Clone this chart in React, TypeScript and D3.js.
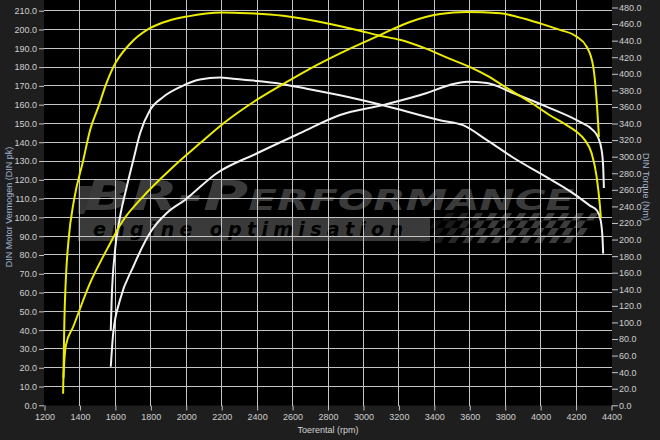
import React, { useEffect, useRef } from 'react';
import * as d3 from 'd3';

// axis ticks
const rpmTicks = [1200, 1400, 1600, 1800, 2000, 2200, 2400, 2600, 2800, 3000, 3200, 3400, 3600, 3800, 4000, 4200, 4400];
const powerTicks = [0, 10, 20, 30, 40, 50, 60, 70, 80, 90, 100, 110, 120, 130, 140, 150, 160, 170, 180, 190, 200, 210];
const torqueTicks = [0, 20, 40, 60, 80, 100, 120, 140, 160, 180, 200, 220, 240, 260, 280, 300, 320, 340, 360, 380, 400, 420, 440, 460, 480];

// [rpm, pk]
const tunedPower: [number, number][] = [
  [1307, 14.5], [1310, 20.5], [1321, 32], [1362, 41.8], [1457, 65], [1551, 82.7], [1645, 98.6],
  [1739, 109.3], [1927, 127], [2077, 139.4], [2209, 150], [2397, 162.5], [2585, 173], [2736, 181],
  [2868, 187.3], [3093, 197], [3262, 204], [3432, 208.2], [3582, 209.3], [3772, 208.6], [3865, 206.8],
  [3996, 203.3], [4109, 199.8], [4203, 196.2], [4260, 190.8], [4297, 180.2], [4316, 162.5], [4329, 142.8],
];

// [rpm, Nm]
const tunedTorque: [number, number][] = [
  [1305, 14], [1308, 50], [1312, 100], [1320, 150], [1336, 200], [1366, 247], [1419, 296], [1457, 332],
  [1504, 360], [1545, 386], [1588, 408], [1682, 436], [1795, 455], [1900, 464], [2002, 469], [2200, 474],
  [2303, 473.5], [2547, 470], [2792, 461], [2980, 452], [3093, 446], [3205, 441], [3357, 430], [3489, 418],
  [3602, 408], [3695, 398], [3808, 383], [3940, 366], [4052, 350], [4147, 338], [4203, 330], [4250, 320],
  [4288, 304], [4316, 276], [4335, 240], [4340, 226],
];

// [rpm, pk]
const stockPower: [number, number][] = [
  [1574, 20.5], [1588, 38.5], [1626, 56], [1701, 73.8], [1795, 91.7], [1890, 102.3], [1993, 109.3],
  [2172, 123.5], [2397, 134], [2642, 144.8], [2868, 154.5], [3110, 159.8], [3358, 166.2], [3488, 170.5],
  [3584, 172.2], [3697, 171.5], [3844, 166.2], [4036, 158.8], [4222, 150.8], [4295, 146.5], [4323, 142.8],
  [4344, 135.9], [4353, 127], [4357, 115.6],
];

// [rpm, Nm]
const stockTorque: [number, number][] = [
  [1574, 90.5], [1579, 126.7], [1598, 187], [1626, 227], [1664, 263.5], [1701, 295.7], [1739, 328],
  [1795, 356], [1870, 372], [1965, 384], [2077, 393], [2190, 395.5], [2265, 394], [2397, 391.4],
  [2529, 388], [2680, 382], [2868, 374], [3110, 362], [3432, 344], [3562, 338], [3697, 320], [3844, 299],
  [4036, 275], [4182, 256], [4278, 241], [4318, 235], [4339, 223], [4350, 199], [4353, 183],
];

const App: React.FC = () => {
  const svgRef = useRef<SVGSVGElement | null>(null);

  useEffect(() => {
    const width = 660;
    const height = 440;
    const plot = { left: 44, right: 612, top: 0, bottom: 405.5 };
    const font = '"Liberation Sans", Arial, sans-serif';

    const svg = d3.select(svgRef.current)
      .attr('width', width)
      .attr('height', height);

    svg.selectAll('*').remove();

    const x = d3.scaleLinear().domain([1200, 4400]).range([44.5, 611.5]);
    const yPower = d3.scaleLinear().domain([0, 210]).range([405.3, 10.7]);
    const yTorque = d3.scaleLinear().domain([0, 480]).range([405.3, 7.5]);

    svg.append('rect').attr('width', width).attr('height', height).attr('fill', '#1e1e1e');
    svg.append('rect')
      .attr('x', plot.left).attr('y', plot.top)
      .attr('width', plot.right - plot.left).attr('height', plot.bottom - plot.top)
      .attr('fill', '#000');

    svg.append('clipPath').attr('id', 'plot-clip')
      .append('rect')
      .attr('x', plot.left).attr('y', plot.top)
      .attr('width', plot.right - plot.left).attr('height', plot.bottom - plot.top);

    // watermark logo
    const wm = svg.append('g').attr('clip-path', 'url(#plot-clip)');
    wm.append('polygon')
      .attr('points', '78,186 96,186 84,214 78,214')
      .attr('fill', '#343434');
    wm.append('rect').attr('x', 78).attr('y', 217).attr('width', 352).attr('height', 24).attr('fill', '#3a3a3a');
    const flag = wm.append('g').attr('transform', 'translate(430,213) skewX(-35)');
    for (let c = 0; c < 22; c++) {
      for (let r = 0; r < 4; r++) {
        if ((c + r) % 2 === 0) continue;
        flag.append('rect')
          .attr('x', c * 7.2 + 10).attr('y', r * 7.5)
          .attr('width', 7.2).attr('height', 7.5)
          .attr('fill', '#3c3c3c')
          .attr('opacity', Math.min(1, 0.25 + c / 10));
      }
    }
    const big = wm.append('text')
      .attr('x', 84).attr('y', 210)
      .attr('font-family', '"DejaVu Sans", sans-serif')
      .attr('font-weight', 'bold').attr('font-style', 'italic')
      .attr('fill', '#3a3a3a')
      .attr('textLength', 490).attr('lengthAdjust', 'spacingAndGlyphs');
    big.append('tspan').attr('font-size', 41).text('BR-P');
    big.append('tspan').attr('font-size', 28).text('ERFORMANCE');
    wm.append('text')
      .attr('x', 93).attr('y', 236)
      .attr('font-family', '"DejaVu Sans", sans-serif')
      .attr('font-weight', 'bold').attr('font-style', 'italic')
      .attr('font-size', 19).attr('fill', '#000')
      .attr('textLength', 310).attr('lengthAdjust', 'spacing')
      .text('engine  optimisation');

    // grid
    const grid = svg.append('g').attr('stroke', '#c4c4c4').attr('stroke-width', 1).attr('shape-rendering', 'crispEdges');
    grid.selectAll('.hgrid')
      .data(powerTicks.filter(d => d > 0))
      .enter().append('line')
      .attr('x1', plot.left).attr('x2', plot.right)
      .attr('y1', d => yPower(d)).attr('y2', d => yPower(d));
    grid.selectAll('.vgrid')
      .data(rpmTicks.slice(1, -1))
      .enter().append('line')
      .attr('x1', d => x(d)).attr('x2', d => x(d))
      .attr('y1', plot.top).attr('y2', plot.bottom);

    // axes
    const styleAxis = (g: d3.Selection<SVGGElement, unknown, null, undefined>) => {
      g.select('.domain').remove();
      g.selectAll('line').attr('stroke', '#c4c4c4');
      g.selectAll('text').attr('fill', '#cfcfcf').attr('font-size', 9).attr('font-family', font);
    };

    svg.append('g')
      .attr('transform', `translate(0, ${plot.bottom})`)
      .call(d3.axisBottom(x).tickValues(rpmTicks).tickSize(5).tickPadding(3).tickFormat(d => String(d)))
      .call(styleAxis);

    svg.append('g')
      .attr('transform', `translate(${plot.left}, 0)`)
      .call(d3.axisLeft(yPower).tickValues(powerTicks).tickSize(5).tickPadding(2).tickFormat(d3.format('.1f')))
      .call(styleAxis);

    svg.append('g')
      .attr('transform', `translate(${plot.right}, 0)`)
      .call(d3.axisRight(yTorque).tickValues(torqueTicks).tickSize(6).tickPadding(1).tickFormat(d3.format('.1f')))
      .call(styleAxis);

    // titles
    svg.append('text')
      .attr('transform', 'translate(12, 207) rotate(-90)')
      .attr('text-anchor', 'middle')
      .attr('font-family', font).attr('font-size', 9)
      .attr('fill', '#a4b4d2')
      .text('DIN Motor Vermogen (DIN pk)');
    svg.append('text')
      .attr('transform', 'translate(643, 187) rotate(90)')
      .attr('text-anchor', 'middle')
      .attr('font-family', font).attr('font-size', 9)
      .attr('fill', '#a4b4d2')
      .text('DIN Torque (Nm)');
    svg.append('text')
      .attr('x', 328).attr('y', 433)
      .attr('text-anchor', 'middle')
      .attr('font-family', font).attr('font-size', 9)
      .attr('fill', '#d4d4d4')
      .text('Toerental (rpm)');

    // curves
    const powerLine = d3.line<[number, number]>()
      .x(d => x(d[0])).y(d => yPower(d[1]))
      .curve(d3.curveMonotoneX);
    const torqueLine = d3.line<[number, number]>()
      .x(d => x(d[0])).y(d => yTorque(d[1]))
      .curve(d3.curveMonotoneX);

    const curves = svg.append('g').attr('clip-path', 'url(#plot-clip)').attr('fill', 'none').attr('stroke-width', 2);
    curves.append('path').attr('d', powerLine(stockPower)).attr('stroke', '#f2f2f2');
    curves.append('path').attr('d', torqueLine(stockTorque)).attr('stroke', '#f2f2f2');
    curves.append('path').attr('d', powerLine(tunedPower)).attr('stroke', '#ecec00');
    curves.append('path').attr('d', torqueLine(tunedTorque)).attr('stroke', '#ecec00');
  }, []);

  return <svg ref={svgRef} style={{ position: 'absolute', left: 0, top: 0, display: 'block' }}></svg>;
};

export default App;
